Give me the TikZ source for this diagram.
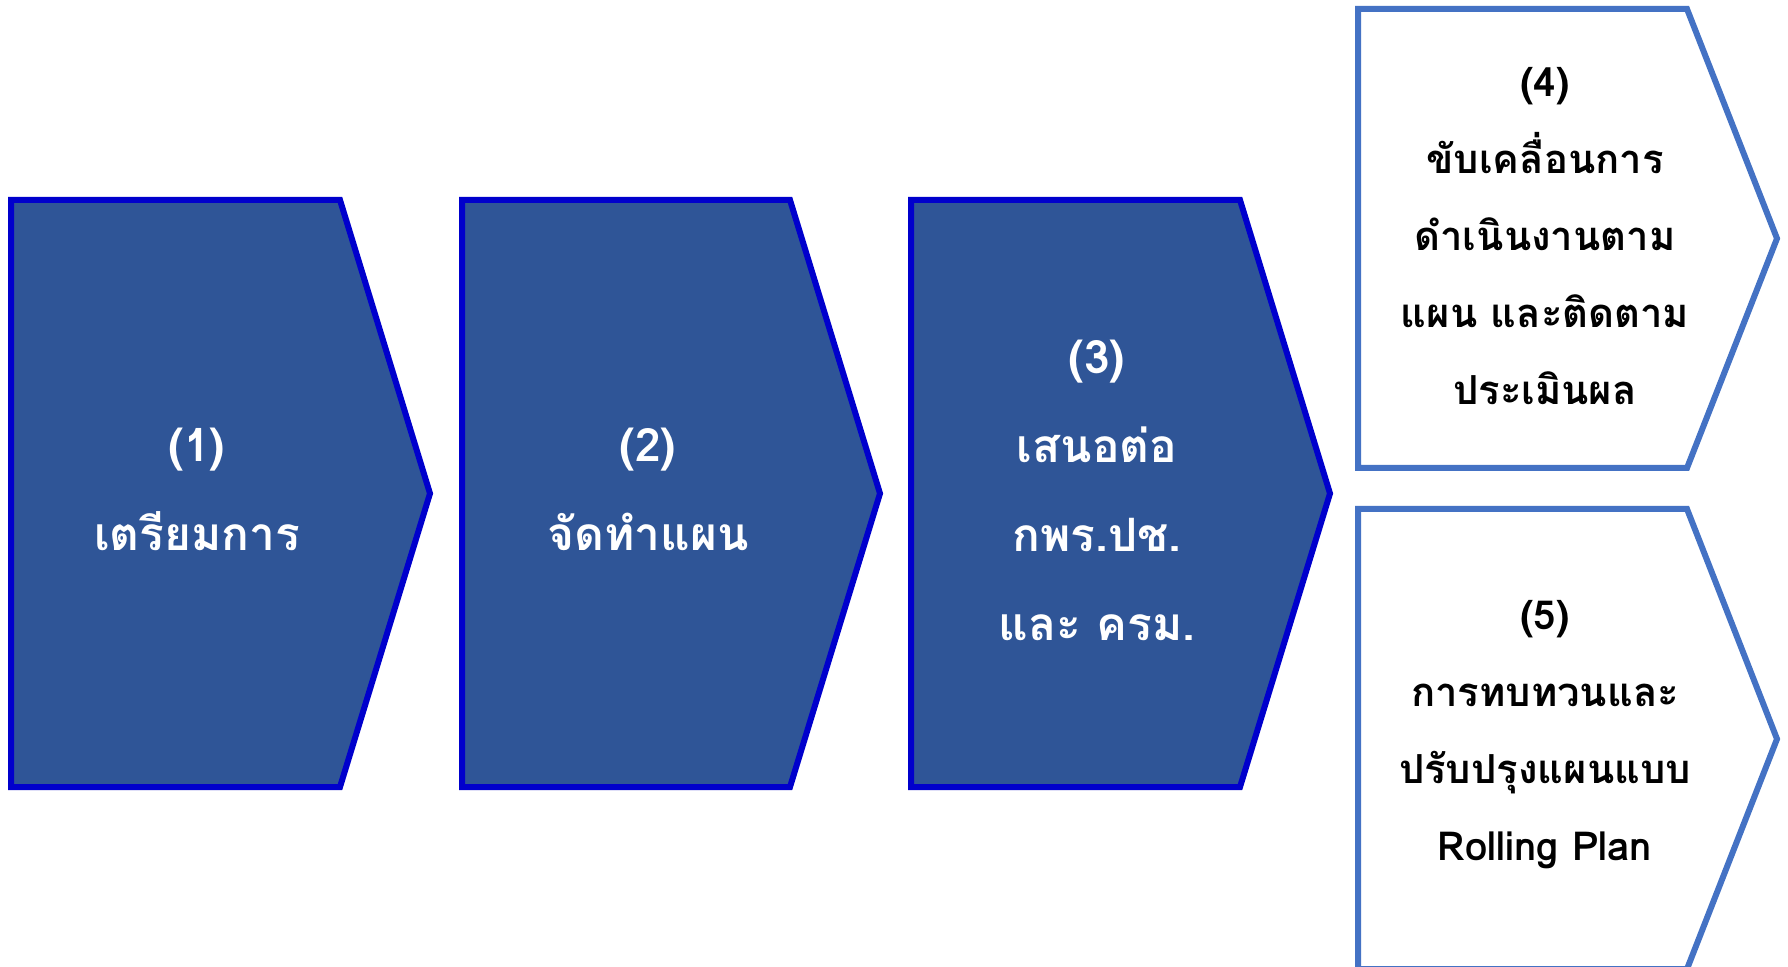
\documentclass[tikz,border=0pt]{standalone}
\usepackage{fontspec}
\newfontfamily\thaifont[Script=Thai]{Loma}
\definecolor{fillblue}{HTML}{2F5597}
\definecolor{edgedark}{HTML}{0000CC}
\definecolor{edgelight}{HTML}{4472C4}
\begin{document}
\begin{tikzpicture}[x=0.5pt,y=-0.5pt]
\tikzset{
  darkchev/.style={fill=fillblue,draw=edgedark,line width=3pt,line join=miter},
  lightchev/.style={fill=white,draw=edgelight,line width=3pt,line join=miter},
  wtxt/.style={text=white,align=center,inner sep=0pt,font=\thaifont\bfseries\fontsize{23}{44.5}\selectfont},
  btxt/.style={text=black,align=center,inner sep=0pt,font=\thaifont\bfseries\fontsize{20}{38.5}\selectfont}
}
\useasboundingbox (0,0) rectangle (1788,967);
\clip (0,0) rectangle (1788,967);
\fill[white] (0,0) rectangle (1788,967);
% chevrons
\draw[darkchev] (11,200) -- (340,200) -- (430,493.5) -- (340,787) -- (11,787) -- cycle;
\draw[darkchev] (462,200) -- (790,200) -- (880,493.5) -- (790,787) -- (462,787) -- cycle;
\draw[darkchev] (911,200) -- (1240,200) -- (1330,493.5) -- (1240,787) -- (911,787) -- cycle;
\draw[lightchev] (1358,9) -- (1687,9) -- (1777,238.5) -- (1687,468) -- (1358,468) -- cycle;
\draw[lightchev] (1358,509) -- (1687,509) -- (1777,739) -- (1687,969) -- (1358,969) -- cycle;
% texts
\node[wtxt] (t1) at (197,489.5) {(1)\\เตรียมการ};
\node[wtxt] (t2) at (648,489.5) {(2)\\จัดทำแผน};
\node[wtxt] (t3) at (1097,490.5) {(3)\\เสนอต่อ\\กพร.ปช.\\และ ครม.};
\node[btxt] (t4) at (1545,236) {(4)\\ขับเคลื่อนการ\\ดำเนินงานตาม\\แผน และติดตาม\\ประเมินผล};
\node[btxt] (t5) at (1545,735) {(5)\\การทบทวนและ\\ปรับปรุงแผนแบบ\\Rolling Plan};
\end{tikzpicture}
\end{document}
